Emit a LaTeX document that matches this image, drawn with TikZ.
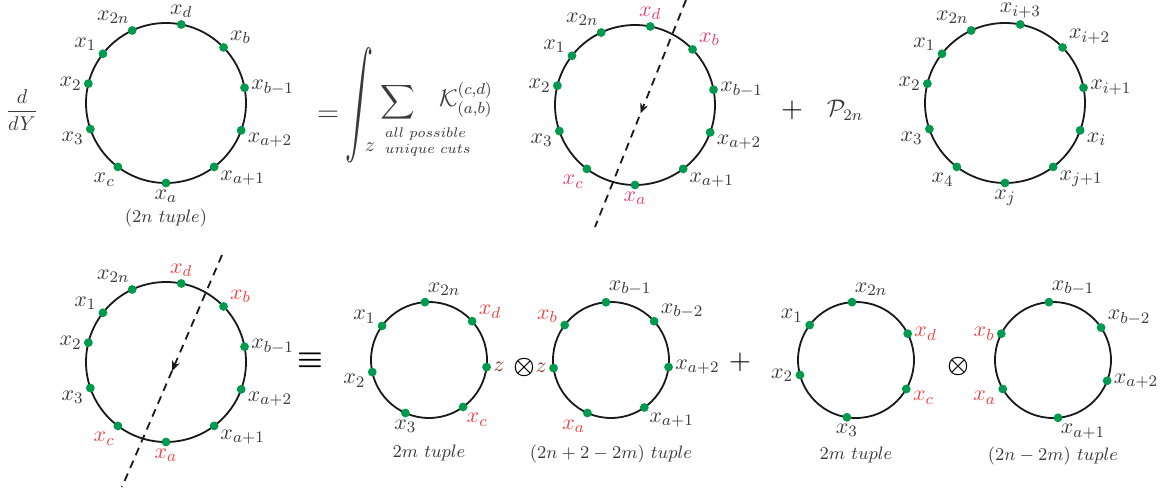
\documentclass[tikz,border=0pt]{standalone}
\usepackage{amsmath, amssymb}
\usepackage{graphicx}
\usepackage{xcolor}
\usepackage{tikz}
\usetikzlibrary{positioning, arrows.meta, decorations.markings, calc}
\definecolor{dotgreen}{HTML}{009A4E}
\definecolor{cutpink}{HTML}{E8407A}
\definecolor{cutred}{HTML}{F04545}
\definecolor{zbrown}{HTML}{8B3A2A}
\definecolor{labelgray}{HTML}{3A3A3A}

\begin{document}
\begin{tikzpicture}[
  x=0.5pt, y=0.5pt,
  ring/.style={circle, draw=black!90, line width=0.9pt, inner sep=0pt, outer sep=0pt},
  bigring/.style={ring, minimum size=80pt},
  smallring/.style={ring, minimum size=58pt},
  dot/.style={circle, fill=dotgreen, inner sep=0pt, minimum size=4.4pt, label distance=0pt},
  lbl/.style={text=labelgray, inner sep=0.8pt, font=\fontsize{11}{13}\selectfont},
  tuple/.style={font=\small, text=labelgray},
  op/.style={font=\Large},
  cutline/.style={dashed, dash pattern=on 4pt off 3pt, line width=0.9pt, draw=black!90, postaction={decorate},
    decoration={markings, mark=at position 0.5 with {\arrow{Stealth[length=5pt, width=4pt]}}}},
]
\useasboundingbox (0,-493) rectangle (1162,0);

\foreach \ring/\pos/\hl in {A/{166,-103}/labelgray, B/{635,-105}/cutpink, D/{166,-362}/cutred}{
  \node[bigring] (\ring) at (\pos) {};
  \foreach \ang/\la/\txt/\col [count=\i] in {79/90/x_d/\hl, 115/100/x_{2n}/labelgray, 142/165/x_1/labelgray,
      166/180/x_2/labelgray, 199/190/x_3/labelgray, 233/255/x_c/\hl, 270/270/x_a/\hl,
      307/335/x_{a+1}/labelgray, 340/350/x_{a+2}/labelgray, 11/0/x_{b-1}/labelgray, 44/20/x_b/\hl}
    \node[dot, label={[lbl, text=\col]\la:$\txt$}] (\ring-\i) at (\ring.\ang) {};
}
\node[tuple, below=9.5pt of A] (A-cap) {$(2n\ tuple)$};

\node[bigring] (C) at (1005,-103) {};
\foreach \ang/\la/\txt [count=\i] in {79/90/x_{i+3}, 115/100/x_{2n}, 142/165/x_1, 166/180/x_2, 199/190/x_3,
    233/255/x_4, 270/270/x_j, 307/335/x_{j+1}, 340/350/x_i, 11/0/x_{i+1}, 44/20/x_{i+2}}
  \node[dot, label={[lbl]\la:$\txt$}] (C-\i) at (C.\ang) {};

\coordinate (B-top) at (686,0);
\coordinate (B-bot) at (595,-227);
\draw[cutline] (B-top) -- (B-bot);
\coordinate (D-top) at (222,-255);
\coordinate (D-bot) at (122,-487);
\draw[cutline] (D-top) -- (D-bot);

\node[text=labelgray] (ddY) at (22,-110) {$\displaystyle\frac{d}{dY}$};
\node[op, text=labelgray] (eq) at (328,-116) {$=$};
\node[text=labelgray, inner sep=0pt] (int) at (359,-105) {\scalebox{1.4}[2.6]{$\displaystyle\int$}};
\node[text=labelgray] (intz) at (370,-147) {$z$};
\node[text=labelgray, font=\large] (sum) at (398,-102) {$\displaystyle\sum$};
\node[text=labelgray, font=\large, anchor=west] (kern) at (432,-100) {$\mathcal{K}^{(c,d)}_{(a,b)}$};
\node[text=labelgray, font=\scriptsize, align=left, anchor=west] (cuts) at (378,-142) {$all\ possible$\\$unique\ cuts$};
\node[op] (plus1) at (792,-110) {$+$};
\node[text=labelgray, font=\large] (perm) at (845,-110) {$\mathcal{P}_{2n}$};

\node[op] (equiv) at (310,-360) {$\boldsymbol{\equiv}$};

\node[smallring] (E) at (429,-360) {};
\foreach \ang/\la/\txt/\col [count=\i] in {94/80/x_{2n}/labelgray, 42/10/x_d/cutred, 353/0/z/zbrown,
    306/290/x_c/cutred, 246/270/x_3/labelgray, 192/185/x_2/labelgray, 144/170/x_1/labelgray}
  \node[dot, label={[lbl, text=\col]\la:$\txt$}] (E-\i) at (E.\ang) {};
\node[tuple, below=10pt of E] (E-cap) {$2m\ tuple$};

\node[font=\large] (otimes1) at (524,-367) {$\boldsymbol{\otimes}$};

\node[smallring] (F) at (611,-360) {};
\foreach \ang/\la/\txt/\col [count=\i] in {95/80/x_{b-1}/labelgray, 42/10/x_{b-2}/labelgray, 353/0/x_{a+2}/labelgray,
    305/315/x_{a+1}/labelgray, 246/265/x_a/cutred, 188/180/z/zbrown, 143/175/x_b/cutred}
  \node[dot, label={[lbl, text=\col]\la:$\txt$}] (F-\i) at (F.\ang) {};
\node[tuple, below=10pt of F] (F-cap) {$(2n+2-2m)\ tuple$};

\node[op] (plus2) at (740,-362) {$+$};

\node[smallring] (G) at (856,-360) {};
\foreach \ang/\la/\txt/\col [count=\i] in {94/80/x_{2n}/labelgray, 27/0/x_d/cutred, 330/355/x_c/cutred,
    261/270/x_3/labelgray, 195/180/x_2/labelgray, 143/170/x_1/labelgray}
  \node[dot, label={[lbl, text=\col]\la:$\txt$}] (G-\i) at (G.\ang) {};
\node[tuple, below=11pt of G] (G-cap) {$2m\ tuple$};

\node[font=\large] (otimes2) at (958,-366) {$\boldsymbol{\otimes}$};

\node[smallring] (H) at (1053,-360) {};
\foreach \ang/\la/\txt/\col [count=\i] in {94/80/x_{b-1}/labelgray, 34/5/x_{b-2}/labelgray, 339/0/x_{a+2}/labelgray,
    275/280/x_{a+1}/labelgray, 210/185/x_a/cutred, 153/180/x_b/cutred}
  \node[dot, label={[lbl, text=\col]\la:$\txt$}] (H-\i) at (H.\ang) {};
\node[tuple, below=11pt of H] (H-cap) {$(2n-2m)\ tuple$};
\end{tikzpicture}
\end{document}
